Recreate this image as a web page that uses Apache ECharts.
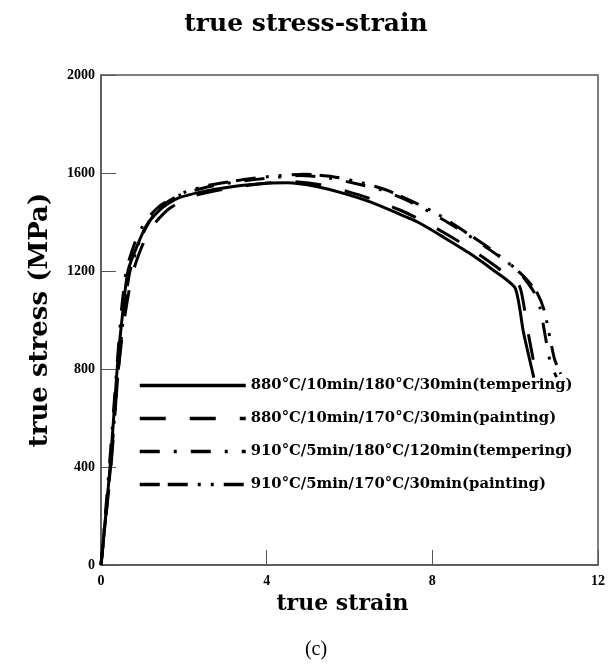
<!DOCTYPE html>
<html>
<head>
<meta charset="utf-8">
<script src="https://cdn.jsdelivr.net/npm/echarts@6/dist/echarts.min.js"></script>
<style>
  html, body { margin: 0; padding: 0; background: #fff; }
  #chart { width: 612px; height: 670px; }
</style>
</head>
<body>
<div id="chart"></div>
<script>
const xTicks = [0, 4, 8, 12];
const yTicks = [0, 400, 800, 1200, 1600, 2000];

const names = [
  "880°C/10min/180°C/30min(tempering)",
  "880°C/10min/170°C/30min(painting)",
  "910°C/5min/180°C/120min(tempering)",
  "910°C/5min/170°C/30min(painting)"
];

// 880/10/180/30 tempering (solid)
const strainA = [0, 0.22, 0.39, 0.53, 0.65, 0.9, 1.13, 1.47, 1.86, 2.4, 3.2, 4.0, 4.5, 5.2, 5.9, 6.5, 7.1, 7.7, 8.3, 8.9, 9.5, 10.0, 10.2, 10.45];
const stressA = [0, 400, 800, 1040, 1200, 1314, 1395, 1457, 1497, 1522, 1545, 1558, 1560, 1545, 1515, 1482, 1440, 1395, 1335, 1272, 1200, 1130, 950, 765];

// 880/10/170/30 painting (dashed)
const strainB = [0, 0.24, 0.42, 0.57, 0.76, 1.0, 1.25, 1.65, 2.2, 3.0, 3.8, 4.6, 5.3, 6.0, 6.6, 7.2, 7.8, 8.4, 9.0, 9.6, 10.1, 10.3, 10.5];
const stressB = [0, 400, 800, 1010, 1190, 1305, 1385, 1455, 1505, 1535, 1555, 1565, 1552, 1522, 1490, 1450, 1402, 1345, 1282, 1210, 1140, 960, 780];

// 910/5/180/120 tempering (dash-dot)
const strainC = [0, 0.2, 0.38, 0.5, 0.62, 0.85, 1.1, 1.45, 1.9, 2.5, 3.3, 4.1, 4.8, 5.5, 6.2, 6.7, 7.3, 7.95, 8.6, 9.3, 10.05, 10.45, 10.6, 10.85, 11.0];
const stressC = [0, 400, 800, 1050, 1210, 1330, 1410, 1470, 1510, 1540, 1565, 1580, 1590, 1580, 1555, 1535, 1495, 1440, 1375, 1297, 1204, 1115, 1050, 824, 767];

// 910/5/170/30 painting (dash-dot-dot)
const strainD = [0, 0.23, 0.42, 0.56, 0.7, 0.95, 1.2, 1.55, 2.0, 2.6, 3.4, 4.2, 4.9, 5.6, 6.3, 6.9, 7.5, 8.1, 8.7, 9.4, 10.1, 10.5, 10.7, 10.95, 11.1];
const stressD = [0, 400, 800, 1040, 1200, 1330, 1410, 1475, 1520, 1550, 1572, 1588, 1595, 1585, 1560, 1530, 1485, 1435, 1370, 1290, 1195, 1120, 1040, 840, 780];

const dashes = ["solid", [26, 24], [20, 14, 3, 14], [20, 8, 20, 10, 3, 10, 3, 10]];
const font = "'Liberation Serif', 'DejaVu Serif', serif";
const wideFont = "'DejaVu Serif', 'Liberation Serif', serif";
const axisColor = "#555";

function pairs(xs, ys) {
  return xs.map((x, i) => [x, ys[i]]);
}

const curves = [
  pairs(strainA, stressA),
  pairs(strainB, stressB),
  pairs(strainC, stressC),
  pairs(strainD, stressD)
];

const chart = echarts.init(document.getElementById("chart"), null, { renderer: "canvas" });

const option = {
  animation: false,
  backgroundColor: "#fff",
  title: {
    text: "true stress-strain",
    left: "center",
    top: 7,
    textStyle: { fontFamily: wideFont, fontWeight: "bold", fontSize: 25, color: "#000" }
  },
  graphic: [
    {
      type: "text",
      x: 316,
      y: 650,
      style: {
        text: "(c)",
        fontFamily: font,
        fontSize: 20,
        fill: "#000",
        align: "center",
        verticalAlign: "middle"
      }
    }
  ],
  grid: {
    left: 101,
    right: 14,
    top: 75,
    bottom: 105,
    show: true,
    borderColor: axisColor,
    borderWidth: 1.5
  },
  legend: {
    orient: "vertical",
    left: 138,
    top: 378,
    padding: 0,
    itemWidth: 106,
    itemHeight: 14,
    itemGap: 18,
    data: names,
    itemStyle: { opacity: 0 },
    lineStyle: { width: 3.5 },
    textStyle: { fontFamily: wideFont, fontWeight: "bold", fontSize: 14.8, color: "#000" }
  },
  xAxis: {
    type: "value",
    min: 0,
    max: 12,
    interval: 4,
    name: "true strain",
    nameLocation: "middle",
    nameGap: 28,
    nameTextStyle: { fontFamily: wideFont, fontWeight: "bold", fontSize: 22, color: "#000", verticalAlign: "top", padding: [0, 14, 0, 0] },
    axisLine: { show: true, lineStyle: { color: axisColor, width: 1.5 } },
    axisTick: { show: true, inside: true, length: 15, lineStyle: { color: axisColor } },
    splitLine: { show: false },
    axisLabel: {
      margin: 9,
      fontFamily: font,
      fontWeight: "bold",
      fontSize: 14,
      color: "#000",
      formatter: v => (xTicks.includes(v) ? String(v) : "")
    }
  },
  yAxis: {
    type: "value",
    min: 0,
    max: 2000,
    interval: 400,
    name: "true stress (MPa)",
    nameLocation: "middle",
    nameGap: 48,
    nameTextStyle: { fontFamily: wideFont, fontWeight: "bold", fontSize: 26, color: "#000" },
    axisLine: { show: true, lineStyle: { color: axisColor, width: 1.5 } },
    axisTick: { show: true, inside: true, length: 15, lineStyle: { color: axisColor } },
    splitLine: { show: false },
    axisLabel: {
      margin: 6,
      fontFamily: font,
      fontWeight: "bold",
      fontSize: 14,
      color: "#000",
      formatter: v => (yTicks.includes(v) ? String(v) : "")
    }
  },
  series: curves.map((data, i) => ({
    name: names[i],
    type: "line",
    data: data,
    smooth: 0.2,
    showSymbol: false,
    symbol: "none",
    lineStyle: { color: "#000", width: 3, type: dashes[i] },
    itemStyle: { color: "#000" }
  }))
};

chart.setOption(option);
</script>
</body>
</html>
